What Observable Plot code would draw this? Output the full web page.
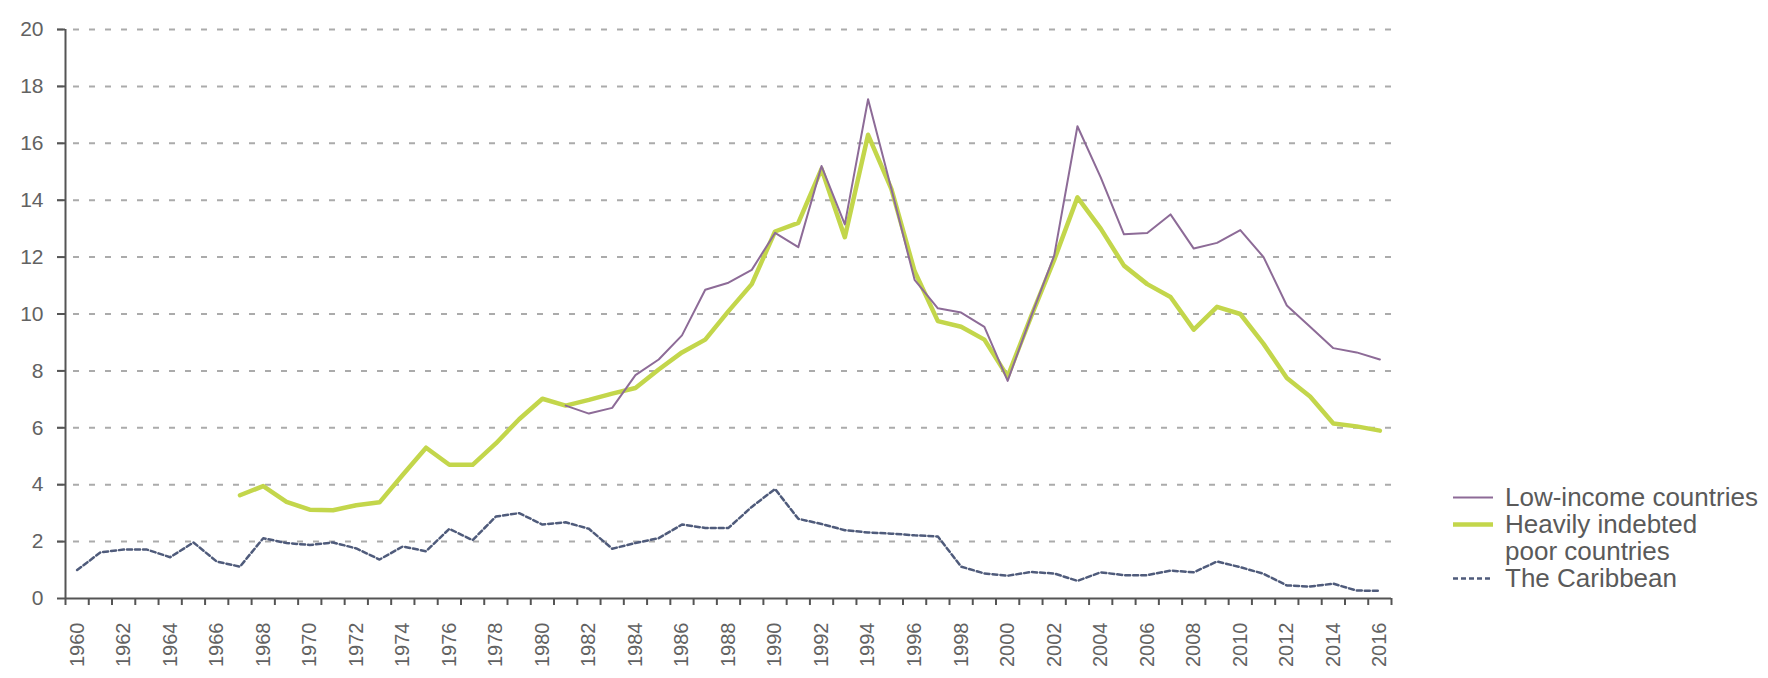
<!DOCTYPE html>
<html>
<head>
<meta charset="utf-8">
<script src="https://cdn.jsdelivr.net/npm/d3@7"></script>
<script src="https://cdn.jsdelivr.net/npm/@observablehq/plot@0.6"></script>
<style>
  html, body { margin: 0; padding: 0; background: #ffffff; }
  #wrap { position: relative; width: 1768px; height: 678px; overflow: hidden;
          font-family: "Liberation Sans", Arial, sans-serif; }
  #legend { position: absolute; left: 1453px; top: 484px; font-size: 26px; line-height: 27px; color: #5a5a5a; }
  .item { display: flex; align-items: flex-start; white-space: nowrap; }
  .item svg { flex: none; margin-right: 12px; }
</style>
</head>
<body>
<div id="wrap">
  <div id="chart"></div>
  <div id="legend"></div>
</div>
<script>
// ---- Data ----
const years = d3.range(1960, 2017);

const caribbean = [
  1.0, 1.62, 1.72, 1.72, 1.45, 1.97, 1.3, 1.12, 2.12, 1.95,
  1.88, 1.97, 1.76, 1.37, 1.83, 1.66, 2.45, 2.05, 2.88, 3.0,
  2.6, 2.68, 2.45, 1.75, 1.95, 2.12, 2.6, 2.48, 2.48, 3.22,
  3.85, 2.8, 2.62, 2.4, 2.32, 2.28, 2.22, 2.18, 1.12, 0.88,
  0.8, 0.93, 0.88, 0.62, 0.92, 0.82, 0.82, 0.98, 0.92, 1.3,
  1.1, 0.87, 0.46, 0.42, 0.52, 0.28, 0.27
];

const hipcStart = 1967;
const hipc = [
  3.63, 3.95, 3.4, 3.12, 3.1, 3.28, 3.38, 4.35, 5.3, 4.7,
  4.7, 5.45, 6.3, 7.02, 6.78, 6.98, 7.2, 7.4, 8.05, 8.65,
  9.1, 10.1, 11.05, 12.9, 13.2, 15.1, 12.7, 16.3, 14.4, 11.5,
  9.75, 9.55, 9.1, 7.8, 9.9, 11.9, 14.1, 13.0, 11.7, 11.05,
  10.6, 9.45, 10.25, 10.0, 8.95, 7.75, 7.1, 6.15, 6.05, 5.9
];

const lowIncomeStart = 1981;
const lowIncome = [
  6.78, 6.5, 6.7, 7.85, 8.4, 9.25, 10.85, 11.1, 11.55, 12.85,
  12.35, 15.2, 13.15, 17.55, 14.4, 11.2, 10.2, 10.05, 9.55, 7.65,
  9.9, 12.05, 16.6, 14.8, 12.8, 12.85, 13.5, 12.3, 12.5, 12.95,
  12.0, 10.3, 9.55, 8.8, 8.65, 8.4
];

const yTicks = d3.range(0, 21, 2);
const xLabelYears = d3.range(1960, 2017, 2);

const seriesNames = ["Low-income countries", "Heavily indebted poor countries", "The Caribbean"];
const seriesColors = ["#8d6b97", "#c3d64b", "#4f5b7b"];

// ---- Build tables ----
const caribRows = caribbean.map((v, i) => ({ year: years[0] + i, value: v }));
const hipcRows = hipc.map((v, i) => ({ year: hipcStart + i, value: v }));
const lowRows = lowIncome.map((v, i) => ({ year: lowIncomeStart + i, value: v }));

const xDomain = [years[0] - 0.5, years[years.length - 1] + 0.5];
const boundaries = d3.range(xDomain[0], xDomain[1] + 0.01, 1);

const axisColor = "#555555";
const textColor = "#626262";

const chart = Plot.plot({
  width: 1768,
  height: 678,
  marginLeft: 65,
  marginRight: 377,
  marginTop: 29,
  marginBottom: 80,
  style: { fontFamily: "'Liberation Sans', Arial, sans-serif", background: "transparent" },
  x: { domain: xDomain, label: null },
  y: { domain: [0, 20], label: null },
  marks: [
    Plot.ruleY(yTicks.filter(d => d > 0), {
      stroke: "#ababab", strokeWidth: 2, strokeDasharray: "6,10", insetLeft: -8, insetRight: -6
    }),
    Plot.axisY({
      ticks: yTicks, tickSize: 8, tickPadding: 14, fontSize: 21,
      fill: textColor, stroke: axisColor, strokeWidth: 2, label: null, tickFormat: d => String(d)
    }),
    Plot.axisX({
      ticks: boundaries, tickSize: 7, tickFormat: () => "", stroke: axisColor, strokeWidth: 2, label: null
    }),
    Plot.axisX({
      ticks: xLabelYears, tickSize: 0, tickPadding: 24, tickRotate: -90, fontSize: 20,
      fill: textColor, label: null, tickFormat: d => String(d), textAnchor: "end", lineAnchor: "middle"
    }),
    Plot.line(hipcRows, { x: "year", y: "value", stroke: seriesColors[1], strokeWidth: 4.5, strokeLinejoin: "round" }),
    Plot.line(lowRows, { x: "year", y: "value", stroke: seriesColors[0], strokeWidth: 2 }),
    Plot.line(caribRows, { x: "year", y: "value", stroke: seriesColors[2], strokeWidth: 2.5, strokeDasharray: "5,3" }),
    Plot.ruleY([0], { stroke: axisColor, strokeWidth: 2 }),
    Plot.ruleX([xDomain[0]], { stroke: axisColor, strokeWidth: 2 })
  ]
});
document.getElementById("chart").appendChild(chart);

// ---- Legend ----
const legend = d3.select("#legend");
const legendItems = [
  { label: ["Low-income countries"], color: seriesColors[0], width: 2, dash: null },
  { label: ["Heavily indebted", "poor countries"], color: seriesColors[1], width: 4.5, dash: null },
  { label: ["The Caribbean"], color: seriesColors[2], width: 2.5, dash: "5,3" }
];
legendItems.forEach(it => {
  const row = legend.append("div").attr("class", "item");
  const svg = row.append("svg").attr("width", 40).attr("height", 27);
  svg.append("line").attr("x1", 0).attr("x2", 40).attr("y1", 13.5).attr("y2", 13.5)
    .attr("stroke", it.color).attr("stroke-width", it.width)
    .attr("stroke-dasharray", it.dash);
  row.append("div").html(it.label.join("<br>"));
});
</script>
</body>
</html>
